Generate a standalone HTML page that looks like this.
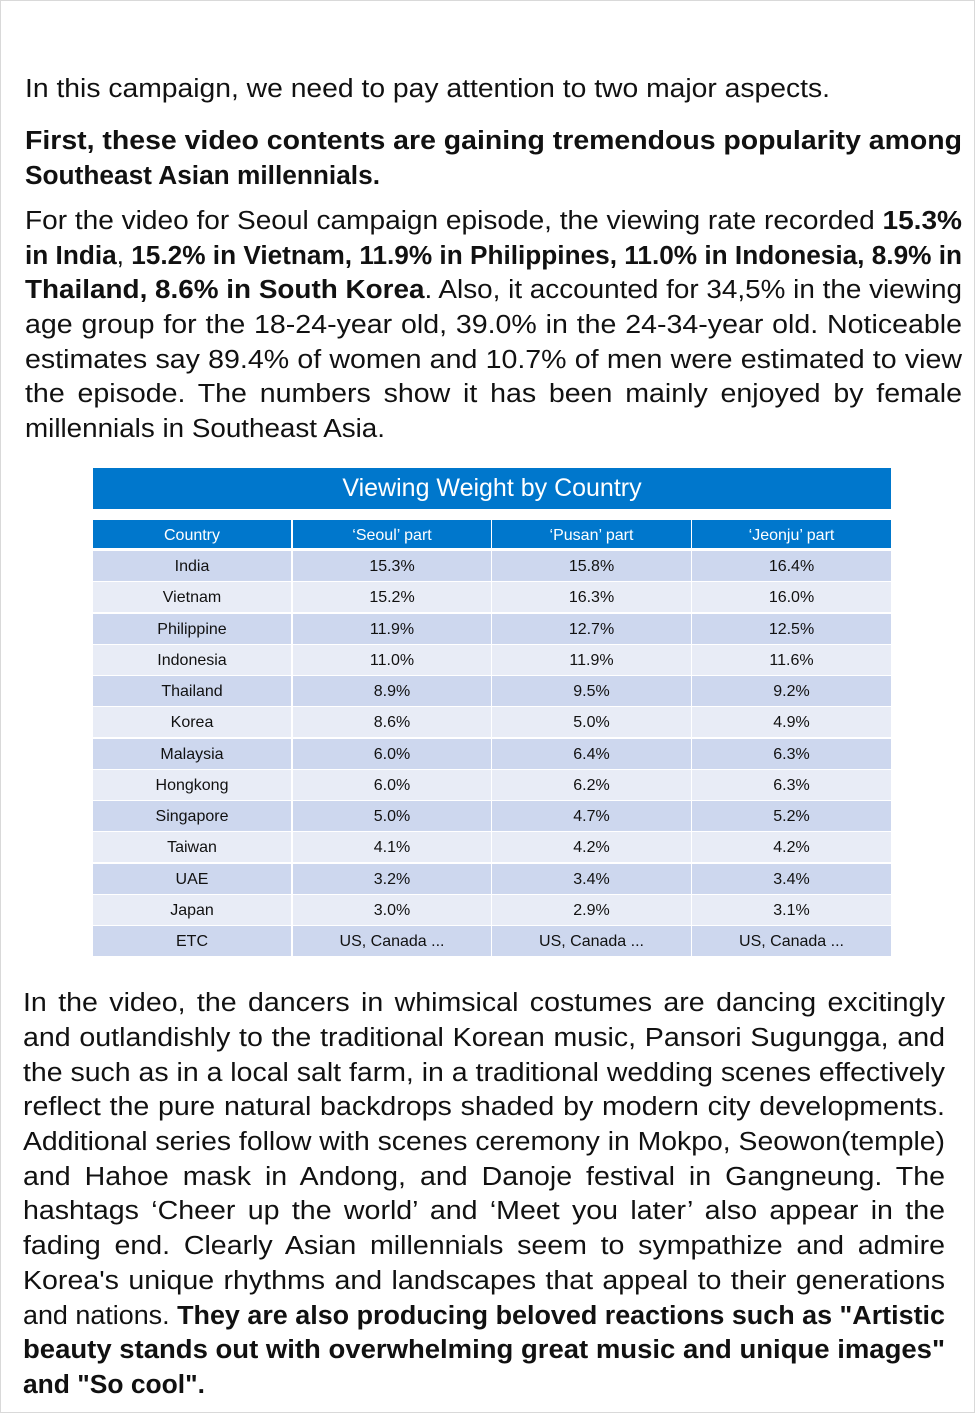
<!DOCTYPE html>
<html><head><meta charset="utf-8">
<style>
html,body{margin:0;padding:0;background:#fff;}
body{width:980px;height:1420px;position:relative;overflow:hidden;font-family:"Liberation Sans",sans-serif;color:#111;}
#frame{position:absolute;left:0;top:0;width:973px;height:1411px;border:1px solid #d9d9d9;}
.ln{position:absolute;height:34px;line-height:34px;font-size:25.5px;white-space:nowrap;}
.ln span.in{display:inline-block;transform-origin:0 50%;white-space:nowrap;}
b{font-weight:bold;}
#tbl{position:absolute;left:93px;top:468px;width:798px;}
#ttl{position:absolute;left:0;top:0;width:798px;height:41px;background:#0077cc;color:#fff;font-size:25px;line-height:41px;text-align:center;}
.cell{position:absolute;height:30px;line-height:31px;text-align:center;font-size:16px;color:#111;}
.hd{background:#0077cc;color:#fff;height:28px;line-height:31px;}
</style></head>
<body>
<div id="frame"></div>
<div id="text"></div>
<div id="tbl">
  <div id="ttl">Viewing Weight by Country</div>
</div>
<script>
const headers=["Country","‘Seoul’ part","‘Pusan’ part","‘Jeonju’ part"];
const countries=["India","Vietnam","Philippine","Indonesia","Thailand","Korea","Malaysia","Hongkong","Singapore","Taiwan","UAE","Japan","ETC"];
const seoul=["15.3%","15.2%","11.9%","11.0%","8.9%","8.6%","6.0%","6.0%","5.0%","4.1%","3.2%","3.0%","US, Canada ..."];
const pusan=["15.8%","16.3%","12.7%","11.9%","9.5%","5.0%","6.4%","6.2%","4.7%","4.2%","3.4%","2.9%","US, Canada ..."];
const jeonju=["16.4%","16.0%","12.5%","11.6%","9.2%","4.9%","6.3%","6.3%","5.2%","4.2%","3.4%","3.1%","US, Canada ..."];

const tbl=document.getElementById('tbl');
const colX=[0,200,399,599], colW=[198,198,199,199];
function cell(txt,x,y,w,cls,bg){
  const d=document.createElement('div');
  d.className='cell'+(cls?' '+cls:'');
  d.style.left=x+'px';d.style.top=y+'px';d.style.width=w+'px';
  if(bg)d.style.background=bg;
  d.textContent=txt;
  return d;
}
headers.forEach((h,i)=>{
  const d=cell(h,colX[i],52,colW[i],'hd');
  
  
  tbl.appendChild(d);
});
const cols=[countries,seoul,pusan,jeonju];
countries.forEach((c,r)=>{
  const y=83+r*31.25;
  const bg=r%2===0?'#cdd7ee':'#e8ecf6';
  cols.forEach((arr,i)=>{
    const d=cell(arr[r],colX[i],y,colW[i],'',bg);
    
    
    tbl.appendChild(d);
  });
});

const lines=[
 [89,25,830,"In this campaign, we need to pay attention to two major aspects."],
 [141,25,962,"<b>First, these video contents are gaining tremendous popularity among</b>"],
 [176,25,380,"<b>Southeast Asian millennials.</b>"],
 [221,25,962,"For the video for Seoul campaign episode, the viewing rate recorded <b>15.3%</b>"],
 [256,25,962,"<b>in India</b>, <b>15.2% in Vietnam, 11.9% in Philippines, 11.0% in Indonesia, 8.9% in</b>"],
 [290,25,962,"<b>Thailand, 8.6% in South Korea</b>. Also, it accounted for 34,5% in the viewing"],
 [325,25,962,"age group for the 18-24-year old, 39.0% in the 24-34-year old. Noticeable"],
 [360,25,962,"estimates say 89.4% of women and 10.7% of men were estimated to view"],
 [394,25,962,"the episode. The numbers show it has been mainly enjoyed by female"],
 [429,25,385,"millennials in Southeast Asia."],
 [1003,23,945,"In the video, the dancers in whimsical costumes are dancing excitingly"],
 [1038,23,945,"and outlandishly to the traditional Korean music, Pansori Sugungga, and"],
 [1073,23,945,"the such as in a local salt farm, in a traditional wedding scenes effectively"],
 [1107,23,945,"reflect the pure natural backdrops shaded by modern city developments."],
 [1142,23,945,"Additional series follow with scenes ceremony in Mokpo, Seowon(temple)"],
 [1177,23,945,"and Hahoe mask in Andong, and Danoje festival in Gangneung. The"],
 [1211,23,945,"hashtags ‘Cheer up the world’ and ‘Meet you later’ also appear in the"],
 [1246,23,945,"fading end. Clearly Asian millennials seem to sympathize and admire"],
 [1281,23,945,"Korea's unique rhythms and landscapes that appeal to their generations"],
 [1316,23,945,"and nations. <b>They are also producing beloved reactions such as \"Artistic</b>"],
 [1350,23,945,"<b>beauty stands out with overwhelming great music and unique images\"</b>"],
 [1385,23,205,"<b>and \"So cool\".</b>"]
];
const txt=document.getElementById('text');
lines.forEach(l=>{
  const d=document.createElement('div');
  d.className='ln';
  
  
  d.style.left=l[1]+'px';d.style.top=(l[0]-17)+'px';
  const s=document.createElement('span');s.className='in';s.innerHTML=l[3];
  d.appendChild(s);txt.appendChild(d);
  const target=l[2]-l[1];
  let w=s.getBoundingClientRect().width;
  let k=Math.min(target/w,1.12);
  const spaces=(s.textContent.match(/ /g)||[]).length;
  if(w*k<target-1 && spaces){
    s.style.wordSpacing=((target/k-w)/spaces)+'px';
  }
  s.style.transform='scaleX('+k+')';
});
</script>
</body></html>
